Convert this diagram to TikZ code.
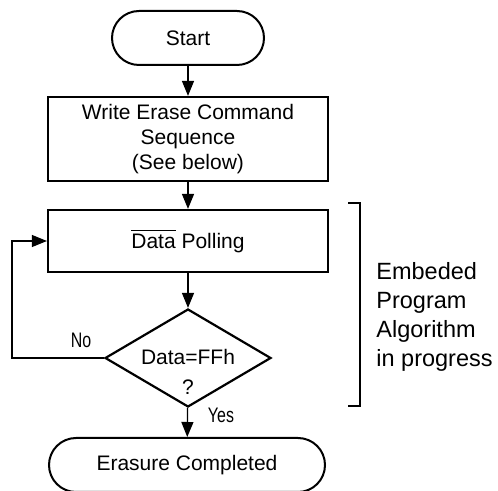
\documentclass[tikz,border=0pt]{standalone}
\usepackage{fontspec}
\setmainfont{Liberation Sans}
\newfontfamily\narrowfont[FakeStretch=0.76]{Liberation Sans}
\usetikzlibrary{shapes.geometric,arrows.meta}
\tikzset{
  terminal/.style={draw,line width=1pt,rectangle,rounded corners=13.5pt,minimum height=27pt,inner sep=0pt,font=\fontsize{10.5pt}{12.5pt}\selectfont},
  procbox/.style={draw,line width=1.1pt,rectangle,minimum width=140pt,inner sep=0pt,align=center,font=\fontsize{10.5pt}{12.5pt}\selectfont},
  decision/.style={draw,line width=1.1pt,diamond,minimum width=83pt,minimum height=49pt,inner sep=0pt},
  flowarrow/.style={line width=0.65pt,-{Triangle[length=7.5pt,width=6pt]}},
  thinline/.style={line width=0.55pt},
  lbl/.style={font=\narrowfont\fontsize{10.5pt}{12pt}\selectfont,inner sep=0pt},
}
\begin{document}
\begin{tikzpicture}[x=0.5pt,y=-0.5pt]
\useasboundingbox (0,0) rectangle (498,491);
\node[terminal,minimum width=76pt] (start) at (188,38) {Start};
\node[procbox,minimum height=42pt] (write) at (188,139) {Write Erase Command\\Sequence\\(See below)};
\node[procbox,minimum height=31pt] (poll) at (188,241) {$\overline{\mbox{Data}}$ Polling};
\node[decision] (d) at (188,358) {};
\node[align=center,inner sep=0pt,font=\fontsize{10.5pt}{15pt}\selectfont] (dtext) at (188,372) {Data=FFh\\?};
\node[terminal,minimum width=138pt] (erase) at (187,465) {Erasure Completed};
\draw[flowarrow] (start) -- (write);
\draw[flowarrow] (write) -- (poll);
\draw[flowarrow] (poll) -- (d);
\draw[flowarrow] (d) -- (erase);
\coordinate (lx) at (12,358);
\draw[thinline,-{Triangle[length=7.5pt,width=6pt]}] (d.west) -- (lx) |- (poll.west);
\node[lbl] (no) at (81,340) {No};
\node[lbl] (yes) at (221,415) {Yes};
\coordinate (b1) at (348,203);
\coordinate (b2) at (360,203);
\coordinate (b3) at (360,406);
\coordinate (b4) at (348,406);
\draw[thinline] (b1) -- (b2) -- (b3) -- (b4);
\node[anchor=west,align=left,inner sep=0pt,font=\fontsize{11.75pt}{14.5pt}\selectfont] (emb) at (376,316.5) {Embeded\\Program\\Algorithm\\in progress};
\end{tikzpicture}
\end{document}
